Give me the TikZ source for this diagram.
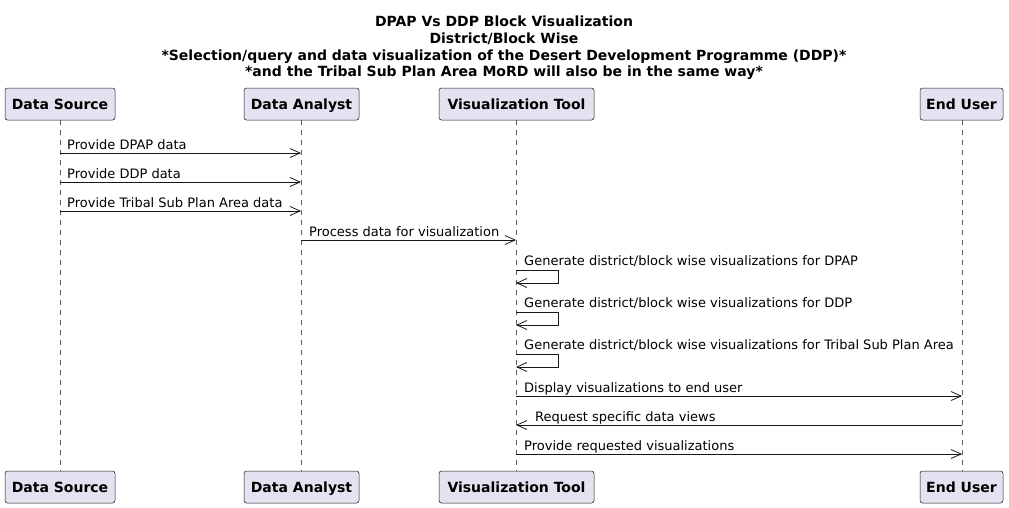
\documentclass[tikz,border=0pt]{standalone}
\usepackage{fontspec}
\setmainfont{DejaVu Sans}
\usetikzlibrary{arrows.meta}

\definecolor{boxfill}{HTML}{E2E2F0}
\definecolor{boxline}{HTML}{181818}

\tikzset{
  actor/.style={draw=boxline, fill=boxfill, rounded corners=2.5pt, line width=0.5pt,
    minimum height=32pt, inner sep=0pt, text height=10.5pt, text depth=0pt,
    font=\fontsize{14}{16}\selectfont\bfseries},
  lifeline/.style={draw=boxline!70, dashed, dash pattern=on 5pt off 5pt, line width=0.5pt},
  msg/.style={draw=boxline, line width=0.8pt, -{Straight Barb[length=10pt,width=9pt,line width=0.8pt]}},
  msgtext/.style={anchor=base west, inner sep=0pt, font=\fontsize{13}{15}\selectfont},
}

\begin{document}
\begin{tikzpicture}[x=1pt, y=-1pt]
    % Canvas
    \useasboundingbox (0,0) rectangle (1009,507);

    % Title
    \node[font=\fontsize{14}{16.6}\selectfont\bfseries, align=center, inner sep=0pt] (title) at (504,48)
      {DPAP Vs DDP Block Visualization\\District/Block Wise\\
       *Selection/query and data visualization of the Desert Development Programme (DDP)*\\
       *and the Tribal Sub Plan Area MoRD will also be in the same way*};

    % Lifelines
    \draw[lifeline] (60,120) -- (60,471);
    \draw[lifeline] (301,120) -- (301,471);
    \draw[lifeline] (516,120) -- (516,471);
    \draw[lifeline] (962,120) -- (962,471);

    % Participants (top)
    \node[actor, minimum width=110pt] (srcT) at (60,104) {Data Source};
    \node[actor, minimum width=115pt] (anaT) at (301.5,104) {Data Analyst};
    \node[actor, minimum width=155pt] (visT) at (516.5,104) {Visualization Tool};
    \node[actor, minimum width=83pt] (usrT) at (961.5,104) {End User};

    % Participants (bottom)
    \node[actor, minimum width=110pt] (srcB) at (60,487) {Data Source};
    \node[actor, minimum width=115pt] (anaB) at (301.5,487) {Data Analyst};
    \node[actor, minimum width=155pt] (visB) at (516.5,487) {Visualization Tool};
    \node[actor, minimum width=83pt] (usrB) at (961.5,487) {End User};

    % Messages source -> analyst
    \coordinate (s1) at (60,153);  \coordinate (a1) at (301,153);
    \coordinate (s2) at (60,182);  \coordinate (a2) at (301,182);
    \coordinate (s3) at (60,211);  \coordinate (a3) at (301,211);
    \draw[msg] (s1) -- (a1);
    \node[msgtext] (m1) at (67,149) {Provide DPAP data};
    \draw[msg] (s2) -- (a2);
    \node[msgtext] (m2) at (67,178) {Provide DDP data};
    \draw[msg] (s3) -- (a3);
    \node[msgtext] (m3) at (67,207) {Provide Tribal Sub Plan Area data};

    % Analyst -> tool
    \coordinate (a4) at (301,240); \coordinate (v4) at (516,240);
    \draw[msg] (a4) -- (v4);
    \node[msgtext] (m4) at (309,236) {Process data for visualization};

    % Self messages of the tool
    \draw[msg] (516,270) -- (558,270) -- (558,283) -- (516,283);
    \node[msgtext] (m5) at (524,265) {Generate district/block wise visualizations for DPAP};
    \draw[msg] (516,312) -- (558,312) -- (558,325) -- (516,325);
    \node[msgtext] (m6) at (524,307) {Generate district/block wise visualizations for DDP};
    \draw[msg] (516,354) -- (558,354) -- (558,367) -- (516,367);
    \node[msgtext] (m7) at (524,349) {Generate district/block wise visualizations for Tribal Sub Plan Area};

    % Tool <-> user
    \coordinate (v8) at (516,396); \coordinate (u8) at (962,396);
    \coordinate (v9) at (516,425); \coordinate (u9) at (962,425);
    \coordinate (v10) at (516,454); \coordinate (u10) at (962,454);
    \draw[msg] (v8) -- (u8);
    \node[msgtext] (m8) at (524,392) {Display visualizations to end user};
    \draw[msg] (u9) -- (v9);
    \node[msgtext] (m9) at (535,421) {Request specific data views};
    \draw[msg] (v10) -- (u10);
    \node[msgtext] (m10) at (524,450) {Provide requested visualizations};
\end{tikzpicture}
\end{document}
